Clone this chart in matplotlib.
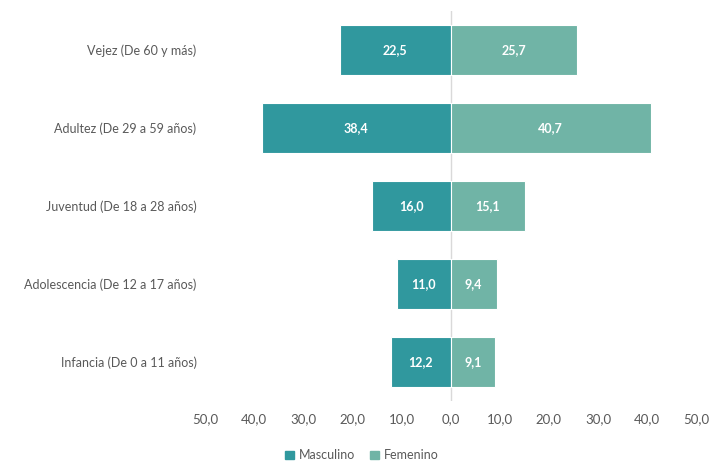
import matplotlib.pyplot as plt
from matplotlib.patches import Patch

categories = ['Vejez (De 60 y más)', 'Adultez (De 29 a 59 años)', 'Juventud (De 18 a 28 años)',
              'Adolescencia (De 12 a 17 años)', 'Infancia (De 0 a 11 años)']
masculino = [22.5, 38.4, 16.0, 11.0, 12.2]
femenino = [25.7, 40.7, 15.1, 9.4, 9.1]
ticks = [-50, -40, -30, -20, -10, 0, 10, 20, 30, 40, 50]

COLOR_M = '#30989e'
COLOR_F = '#70b4a6'
TEXT = '#595959'


def fmt(v):
    return f'{abs(v):.1f}'.replace('.', ',')


def main():
    plt.rcParams['font.family'] = ['Lato', 'DejaVu Sans']
    fig = plt.figure(figsize=(7.09, 4.61), dpi=100)
    ax = fig.add_axes([0.289, 0.130, 0.693, 0.846])

    ypos = list(range(len(categories)))[::-1]
    ax.barh(ypos, [-m for m in masculino], height=0.65, color=COLOR_M, edgecolor='white', linewidth=0.8)
    ax.barh(ypos, femenino, height=0.65, color=COLOR_F, edgecolor='white', linewidth=0.8)

    for y, m, f in zip(ypos, masculino, femenino):
        ax.text(-m / 2, y, fmt(m), ha='center', va='center', color='white', fontsize=9, fontweight='bold')
        ax.text(f / 2, y, fmt(f), ha='center', va='center', color='white', fontsize=9, fontweight='bold')

    ax.axvline(0, color='#d9d9d9', linewidth=1, zorder=0)
    ax.set_xlim(-50, 50)
    ax.set_ylim(-0.5, len(categories) - 0.5)
    ax.set_xticks(ticks)
    ax.set_xticklabels([fmt(t) for t in ticks], color=TEXT, fontsize=9.5)
    ax.set_yticks(ypos)
    ax.set_yticklabels(categories, color=TEXT, fontsize=9)
    ax.tick_params(axis='y', length=0, pad=6)
    ax.tick_params(axis='x', length=0, pad=9)
    for s in ax.spines.values():
        s.set_visible(False)

    handles = [Patch(color=COLOR_M, label='Masculino'), Patch(color=COLOR_F, label='Femenino')]
    fig.legend(handles=handles, loc='lower center', bbox_to_anchor=(0.51, -0.025), ncol=2, frameon=False,
               fontsize=9, handlelength=0.7, handleheight=0.7, handletextpad=0.4, columnspacing=1.2,
               labelcolor=TEXT)

    fig.savefig('out.png', dpi=100)


if __name__ == '__main__':
    main()
